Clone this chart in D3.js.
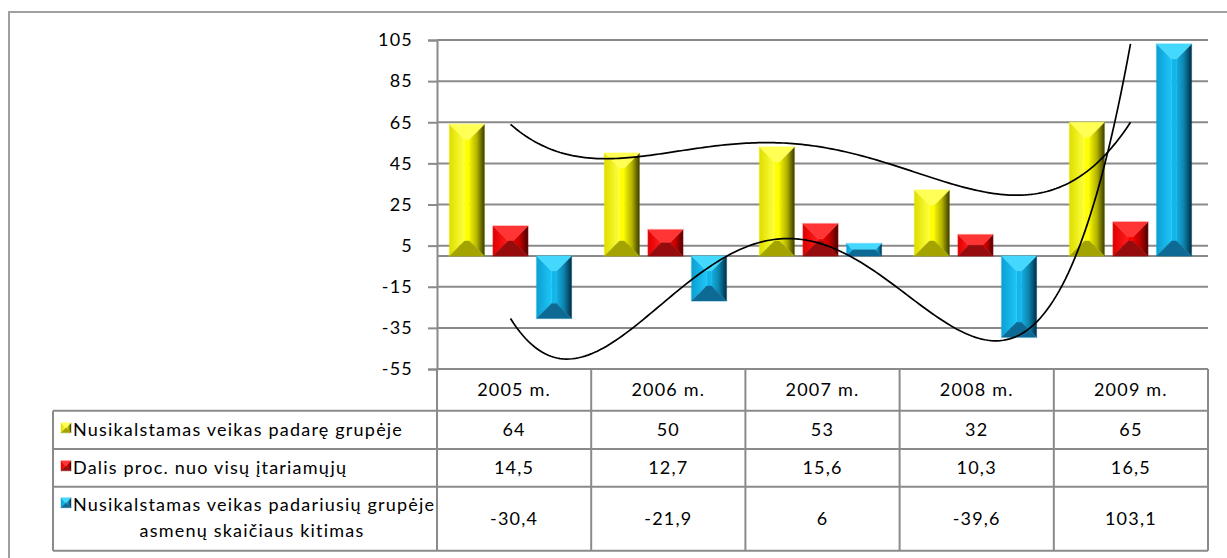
<!DOCTYPE html>
<html><head><meta charset="utf-8">
<script src="https://cdn.jsdelivr.net/npm/d3@7"></script>
<style>
body{margin:0;background:#fff}
svg{display:block}
text{font-family:Lato,"Open Sans",sans-serif;font-size:18px;fill:#000;letter-spacing:1.2px}
</style>
</head><body>
<svg id="c" width="1227" height="558"></svg>
<script>
// ---------------- data ----------------
const categories = ["2005 m.", "2006 m.", "2007 m.", "2008 m.", "2009 m."];
const seriesNames = [
  "Nusikalstamas veikas padarę grupėje",
  "Dalis proc. nuo visų įtariamųjų",
  "Nusikalstamas veikas padariusių grupėje asmenų skaičiaus kitimas"
];
const groupActs = [64, 50, 53, 32, 65];
const sharePct = [14.5, 12.7, 15.6, 10.3, 16.5];
const personsChange = [-30.4, -21.9, 6, -39.6, 103.1];
const yTicks = [-55, -35, -15, 5, 25, 45, 65, 85, 105];

// ---------------- setup ----------------
const svg = d3.select("#c");
const defs = svg.append("defs");
const series = [groupActs, sharePct, personsChange];
const palettes = [
  {id:"yel", top:"#ffff55", bottom:"#a4a400", face:"#ffff00", l0:"#dede00", l1:"#ffff3c", r0:"#f4f400", r1:"#3c3c00"},
  {id:"red", top:"#ff3434", bottom:"#960c0c", face:"#ff0000", l0:"#e00000", l1:"#ff1c1c", r0:"#ee0000", r1:"#4e0000"},
  {id:"blu", top:"#44d8ff", bottom:"#0c6a94", face:"#12b6ea", l0:"#0c9fd2", l1:"#1ec6f8", r0:"#12b0e2", r1:"#022e48"}
];
palettes.forEach(p => {
  const gl = defs.append("linearGradient").attr("id", p.id + "L").attr("x1", 0).attr("x2", 1).attr("y1", 0).attr("y2", 0);
  gl.append("stop").attr("offset", 0).attr("stop-color", p.l0);
  gl.append("stop").attr("offset", 1).attr("stop-color", p.l1);
  const gr = defs.append("linearGradient").attr("id", p.id + "R").attr("x1", 0).attr("x2", 1).attr("y1", 0).attr("y2", 0);
  gr.append("stop").attr("offset", 0).attr("stop-color", p.r0);
  gr.append("stop").attr("offset", 0.5).attr("stop-color", d3.interpolateRgb(p.r0, p.r1)(0.35));
  gr.append("stop").attr("offset", 1).attr("stop-color", p.r1);
});

const plotL = 437, plotR = 1208, plotT = 40, plotB = 369;
const y = d3.scaleLinear().domain([-55, 105]).range([plotB, plotT]);
const xPlot = d3.scaleBand().domain(categories).range([433, 1208]);
const xTable = d3.scaleBand().domain(categories).range([plotL, plotR]);
const sub = d3.scaleBand().domain([0, 1, 2]).range([-61, 61]).paddingInner(0.2);

const gridColor = "#8a8a8a";

// outer frame
svg.append("rect").attr("x", 9).attr("y", 12).attr("width", 1240).attr("height", 560)
  .attr("fill", "none").attr("stroke", "#a0a0a0").attr("stroke-width", 2);

// gridlines + y axis
const yAxis = d3.axisLeft(y).tickValues(yTicks).tickSize(9).tickPadding(15).tickFormat(d => d);
const ga = svg.append("g").attr("transform", `translate(${plotL},0)`).call(yAxis);
ga.attr("font-size", null).attr("font-family", null);
ga.select(".domain").attr("stroke", gridColor).attr("stroke-width", 2);
ga.selectAll(".tick line").attr("stroke", gridColor).attr("stroke-width", 2);
ga.selectAll(".tick text").attr("fill", "#000");
svg.append("g").selectAll("line").data(yTicks).join("line")
  .attr("x1", plotL).attr("x2", plotR).attr("y1", d => y(d)).attr("y2", d => y(d))
  .attr("stroke", gridColor).attr("stroke-width", 2);
// zero axis
svg.append("line").attr("x1", plotL).attr("x2", plotR).attr("y1", y(0)).attr("y2", y(0))
  .attr("stroke", gridColor).attr("stroke-width", 2);

// bevelled bar (four facets like a hip roof)
function bevel(g, x0, y0, x1, y1, p, maxB) {
  const w = x1 - x0, h = y1 - y0;
  const b = Math.min(w / 2, h / 2, maxB);
  const ix0 = x0 + b, ix1 = x1 - b, iy0 = y0 + b, iy1 = y1 - b;
  const poly = (pts, fill) => g.append("polygon").attr("points", pts.map(q => q.join(",")).join(" "))
    .attr("fill", fill).attr("stroke", fill).attr("stroke-width", 0.4);
  if (ix1 - ix0 > 0.01 && iy1 - iy0 > 0.01) poly([[ix0, iy0], [ix1, iy0], [ix1, iy1], [ix0, iy1]], p.face);
  poly([[x0, y0], [ix0, iy0], [ix0, iy1], [x0, y1]], `url(#${p.id}L)`);
  poly([[x1, y0], [ix1, iy0], [ix1, iy1], [x1, y1]], `url(#${p.id}R)`);
  poly([[x0, y0], [x1, y0], [ix1, iy0], [ix0, iy0]], p.top);
  poly([[x0, y1], [x1, y1], [ix1, iy1], [ix0, iy1]], p.bottom);
}

const barsG = svg.append("g");
series.forEach((vals, si) => {
  vals.forEach((v, ci) => {
    const cx = xPlot(categories[ci]) + xPlot.bandwidth() / 2;
    const x0 = cx + sub(si), x1 = x0 + sub.bandwidth();
    const ya = y(Math.max(v, 0)), yb = y(Math.min(v, 0));
    const g = barsG.append("g");
    g.append("rect").attr("x", x0 - 1).attr("y", ya - 1).attr("width", x1 - x0 + 2).attr("height", yb - ya + 2)
      .attr("fill", palettes[si].face).attr("opacity", 0.18);
    bevel(g, x0, ya, x1, yb, palettes[si], 15);
  });
});

// polynomial trendlines (order 4 through the series points)
function lagrange(vals) {
  const n = vals.length;
  return t => {
    let s = 0;
    for (let i = 0; i < n; i++) {
      let L = 1;
      for (let j = 0; j < n; j++) if (j !== i) L *= (t - j) / (i - j);
      s += vals[i] * L;
    }
    return s;
  };
}
const tx = d3.scaleLinear().domain([0, categories.length - 1])
  .range([xPlot(categories[0]) + xPlot.bandwidth() / 2, xPlot(categories[categories.length - 1]) + xPlot.bandwidth() / 2]);
const ts = d3.range(0, categories.length - 1 + 1e-9, 0.02);
[groupActs, personsChange].forEach(vals => {
  const f = lagrange(vals);
  svg.append("path").datum(ts)
    .attr("d", d3.line().x(t => tx(t)).y(t => y(f(t))))
    .attr("fill", "none").attr("stroke", "#000").attr("stroke-width", 1.7);
});

// ---------------- data table ----------------
const rowY = [369, 410.7, 449, 486.7, 550.7];
const legL = 53;
const tg = svg.append("g");
const tline = (x1, y1, x2, y2) => tg.append("line").attr("x1", x1).attr("y1", y1).attr("x2", x2).attr("y2", y2)
  .attr("stroke", gridColor).attr("stroke-width", 2);
for (let r = 1; r < rowY.length; r++) tline(legL, rowY[r], plotR, rowY[r]);
tline(legL, rowY[1], legL, rowY[4]);
categories.forEach(c => tline(xTable(c), rowY[0], xTable(c), rowY[4]));
tline(plotR, rowY[0], plotR, rowY[4]);

// header
tg.selectAll("text.hdr").data(categories).join("text").attr("class", "hdr")
  .attr("x", c => xTable(c) + xTable.bandwidth() / 2).attr("y", (rowY[0] + rowY[1]) / 2)
  .attr("dy", "0.36em").attr("text-anchor", "middle").text(c => c);

const fmt = v => String(v).replace(".", ",");
series.forEach((vals, si) => {
  const cy = (rowY[si + 1] + rowY[si + 2]) / 2;
  tg.selectAll(null).data(vals).join("text")
    .attr("x", (v, i) => xTable(categories[i]) + xTable.bandwidth() / 2).attr("y", cy)
    .attr("dy", "0.36em").attr("text-anchor", "middle").text(fmt);
});

// legend cells
const legendLines = [
  [seriesNames[0]],
  [seriesNames[1]],
  ["Nusikalstamas veikas padariusių grupėje", "asmenų skaičiaus kitimas"]
];
legendLines.forEach((lines, si) => {
  const top = rowY[si + 1], bot = rowY[si + 2];
  let ys;
  if (lines.length === 1) ys = [(top + bot) / 2];
  else ys = [(top + bot) / 2 - 14, (top + bot) / 2 + 12];
  bevel(tg.append("g"), 61, ys[0] - 7, 71, ys[0] + 3, palettes[si], 5);
  tg.append("text").attr("x", 73).attr("y", ys[0]).attr("dy", "0.36em").text(lines[0]);
  if (lines.length > 1)
    tg.append("text").attr("x", 252).attr("y", ys[1]).attr("dy", "0.36em").attr("text-anchor", "middle").text(lines[1]);
});
</script>
</body></html>
